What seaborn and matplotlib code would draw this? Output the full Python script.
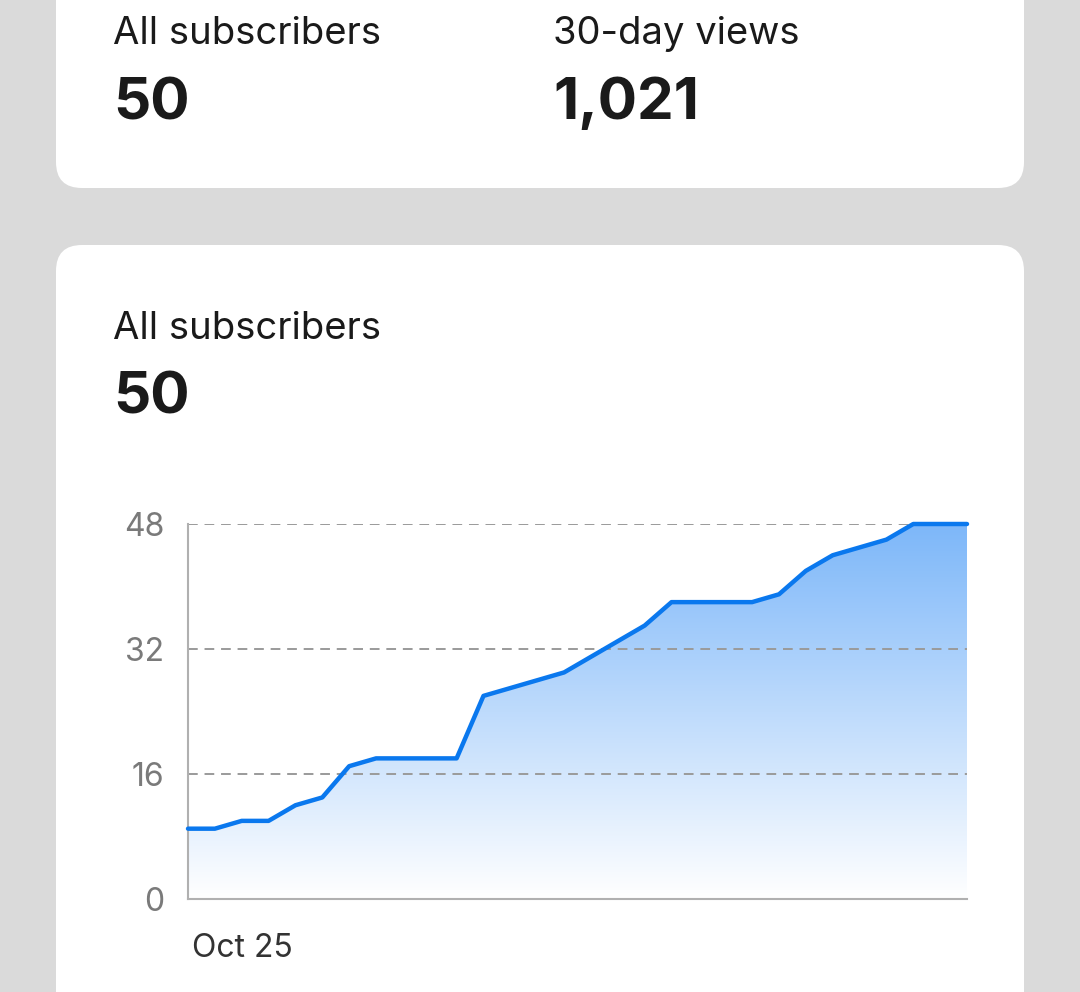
import numpy as np
import matplotlib
matplotlib.use("Agg")
import matplotlib.pyplot as plt
import seaborn as sns
import pandas as pd
from matplotlib.patches import FancyBboxPatch, Polygon

days = list(range(30))
subscribers = [9, 9, 10, 10, 12, 13, 17, 18, 18, 18, 18, 26, 27, 28, 29,
               31, 33, 35, 38, 38, 38, 38, 39, 42, 44, 45, 46, 48, 48, 48]
yticks = [0, 16, 32, 48]
first_label = "Oct 25"
df = pd.DataFrame({"day": days, "subs": subscribers})

sns.set_theme(style="white")
plt.rcParams["font.family"] = ["Inter", "DejaVu Sans"]

fig = plt.figure(figsize=(10.8, 9.92), dpi=100)
fig.patch.set_facecolor("#dadada")

# background layer in pixel units
bg = fig.add_axes([0, 0, 1, 1])
bg.set_xlim(0, 1080)
bg.set_ylim(992, 0)
bg.axis("off")
for (y0, y1) in [(-60, 188), (245, 1060)]:
    bg.add_patch(FancyBboxPatch((56, y0), 968, y1 - y0,
                                boxstyle="round,pad=0,rounding_size=26",
                                fc="white", ec="none"))

dark = "#1a1a1a"
bg.text(113, 44, "All subscribers", fontsize=27.5, color=dark, va="baseline")
bg.text(113, 119, "50", fontsize=42, fontweight="bold", color=dark, va="baseline")
bg.text(553, 44, "30-day views", fontsize=27.5, color=dark, va="baseline")
bg.text(553, 119, "1,021", fontsize=42, fontweight="bold", color=dark, va="baseline")
bg.text(113, 339, "All subscribers", fontsize=27.5, color=dark, va="baseline")
bg.text(113, 413, "50", fontsize=42, fontweight="bold", color=dark, va="baseline")

ax = fig.add_axes([188 / 1080, 1 - 899 / 992, (967 - 188) / 1080, (899 - 524) / 992])
ax.set_facecolor("none")
ax.set_xlim(0, 29)
ax.set_ylim(0, 48)

# gradient fill under the line
grad = np.linspace(0, 1, 256).reshape(-1, 1)
cmap = matplotlib.colors.LinearSegmentedColormap.from_list("g", ["#ffffff", "#7db7f9"])
im = ax.imshow(grad, extent=[0, 29, 0, 48], origin="lower", aspect="auto",
               cmap=cmap, zorder=1)
poly = Polygon(list(zip(days, subscribers)) + [(29, 0), (0, 0)], closed=True,
               transform=ax.transData, fc="none", ec="none")
ax.add_patch(poly)
im.set_clip_path(poly)

sns.lineplot(data=df, x="day", y="subs", ax=ax, color="#0a78ee", linewidth=3.2,
             zorder=3, clip_on=False)

ax.set_yticks(yticks)
ax.set_yticklabels([str(v) for v in yticks], fontsize=23, color="#7a7a7a")
ax.set_xticks([])
ax.set_xlabel("")
ax.set_ylabel("")
for v in yticks[1:]:
    ax.axhline(v, color="#9a9a9a", linestyle=(0, (5, 3.5)), linewidth=1.4, zorder=2)
for s in ["top", "right"]:
    ax.spines[s].set_visible(False)
for s in ["left", "bottom"]:
    ax.spines[s].set_color("#b0b0b0")
    ax.spines[s].set_linewidth(1.5)
ax.tick_params(axis="y", length=0, pad=17)

bg.text(192, 957, first_label, fontsize=23, color="#333333", va="baseline")

fig.savefig("out.png", dpi=100)
